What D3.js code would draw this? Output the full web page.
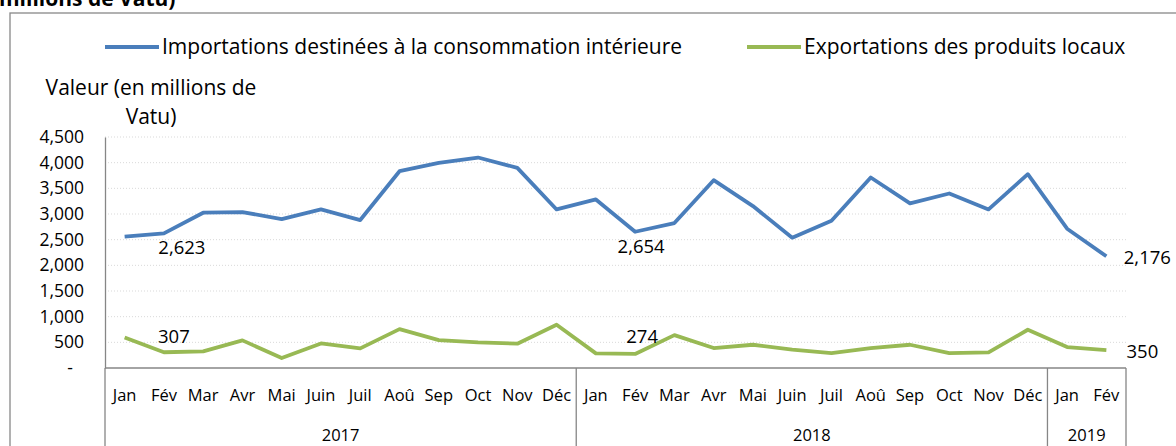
<!DOCTYPE html>
<html>
<head>
<meta charset="utf-8">
<script src="https://cdn.jsdelivr.net/npm/d3@7"></script>
<style>
  body { margin: 0; background: #fff; overflow: hidden; }
  text { font-family: "Open Sans", Lato, sans-serif; fill: #000; }
</style>
</head>
<body>
<svg id="chart"></svg>
<script>
const months = ['Jan', 'Fév', 'Mar', 'Avr', 'Mai', 'Juin', 'Juil', 'Aoû', 'Sep', 'Oct', 'Nov', 'Déc',
  'Jan', 'Fév', 'Mar', 'Avr', 'Mai', 'Juin', 'Juil', 'Aoû', 'Sep', 'Oct', 'Nov', 'Déc',
  'Jan', 'Fév'];
const years = ['2017', '2018', '2019'];
const yearCounts = [12, 12, 2];

const imports = [2558, 2623, 3025, 3038, 2902, 3089, 2882, 3834, 3996, 4100, 3899, 3089,
  3284, 2654, 2824, 3659, 3154, 2539, 2869, 3711, 3206, 3400, 3089, 3776,
  2714, 2176];
const exports = [596, 307, 324, 538, 194, 479, 382, 758, 544, 499, 473, 842,
  285, 274, 641, 389, 453, 356, 291, 389, 453, 291, 304, 745,
  408, 350];

const yTicks = [0, 500, 1000, 1500, 2000, 2500, 3000, 3500, 4000, 4500];
const seriesNames = ['Importations destinées à la consommation intérieure', 'Exportations des produits locaux'];
const labelled = [1, 13, 25];

const width = 1176, height = 446;
const margin = { top: 137, right: 50, bottom: 78, left: 105 };

const svg = d3.select('#chart').attr('width', width).attr('height', height);

const x = d3.scaleBand()
  .domain(d3.range(months.length))
  .range([margin.left, width - margin.right]);

const y = d3.scaleLinear()
  .domain([0, 4500])
  .range([height - margin.bottom, margin.top]);

const cx = i => x(i) + x.bandwidth() / 2;
const y0 = y(0);

// title cut off by the top edge, outer frame
svg.append('text')
  .attr('x', -1).attr('y', 6)
  .style('font-weight', 'bold').style('font-size', '21px')
  .text('millions de Vatu)');

svg.append('rect')
  .attr('x', 10).attr('y', 13)
  .attr('width', width + 20).attr('height', height)
  .attr('fill', 'none').attr('stroke', '#888').attr('stroke-width', 1.3);

// gridlines
svg.append('g')
  .selectAll('line')
  .data(yTicks.slice(1))
  .enter().append('line')
  .attr('x1', margin.left).attr('x2', width - margin.right)
  .attr('y1', d => y(d)).attr('y2', d => y(d))
  .attr('stroke', '#d9d9d9').attr('stroke-dasharray', '1,2');

// y axis
const yAxis = svg.append('g')
  .attr('transform', `translate(${margin.left},0)`)
  .call(d3.axisLeft(y).tickValues(yTicks).tickSize(0).tickPadding(21)
    .tickFormat(d => d === 0 ? '-' : d3.format(',')(d)));
yAxis.select('.domain').attr('stroke', '#868686').attr('stroke-width', 1.3);
yAxis.selectAll('text').style('font-size', '17.5px').style('font-family', '"Open Sans"');
yAxis.selectAll('.tick').filter(d => d === 0).select('text').attr('x', -32);

// x axis with grouped categories
const xg = svg.append('g');
xg.append('line')
  .attr('x1', margin.left).attr('x2', width - margin.right)
  .attr('y1', y0).attr('y2', y0)
  .attr('stroke', '#868686').attr('stroke-width', 1.5);

const bounds = [0];
yearCounts.forEach(c => bounds.push(bounds[bounds.length - 1] + c));

xg.selectAll('.sep')
  .data(bounds)
  .enter().append('line')
  .attr('x1', i => i < months.length ? x(i) : x(i - 1) + x.bandwidth())
  .attr('x2', i => i < months.length ? x(i) : x(i - 1) + x.bandwidth())
  .attr('y1', y0).attr('y2', height)
  .attr('stroke', '#868686').attr('stroke-width', 1.3);

xg.selectAll('.month')
  .data(months)
  .enter().append('text')
  .attr('x', (d, i) => cx(i))
  .attr('y', y0 + 33)
  .attr('text-anchor', 'middle')
  .style('font-size', '16.5px')
  .text(d => d);

xg.selectAll('.year')
  .data(years)
  .enter().append('text')
  .attr('x', (d, i) => (x(bounds[i]) + x(bounds[i + 1] - 1) + x.bandwidth()) / 2)
  .attr('y', y0 + 73)
  .attr('text-anchor', 'middle')
  .style('font-size', '16.5px')
  .text(d => d);

// y axis title
const title = svg.append('text')
  .attr('text-anchor', 'middle')
  .style('font-size', '21px');
title.append('tspan').attr('x', 151).attr('y', 95).text('Valeur (en millions de');
title.append('tspan').attr('x', 151).attr('y', 124).text('Vatu)');

// lines
const colors = ['#4a7ebb', '#98b954'];
const line = d3.line()
  .x((d, i) => cx(i))
  .y(d => y(d));

[imports, exports].forEach((s, k) => {
  svg.append('path')
    .datum(s)
    .attr('fill', 'none')
    .attr('stroke', colors[k])
    .attr('stroke-width', 3.8)
    .attr('stroke-linejoin', 'round')
    .attr('d', line);
});

// data labels
const labelOffsets = [
  [[18, 14], [6, 15], [41, 1]],
  [[10, -16], [7, -17], [36, 1]]
];
[imports, exports].forEach((s, k) => {
  svg.append('g')
    .selectAll('text')
    .data(labelled)
    .enter().append('text')
    .attr('x', (i, j) => cx(i) + labelOffsets[k][j][0])
    .attr('y', (i, j) => y(s[i]) + labelOffsets[k][j][1])
    .attr('dy', '0.35em')
    .attr('text-anchor', 'middle')
    .style('font-size', '18.5px')
    .text(i => d3.format(',')(s[i]));
});

// legend
const legendX = [105, 747];
const lg = svg.append('g')
  .selectAll('g')
  .data(seriesNames)
  .enter().append('g')
  .attr('transform', (d, i) => `translate(${legendX[i]},47)`);
lg.append('line')
  .attr('x1', 0).attr('x2', 54)
  .attr('stroke', (d, i) => colors[i]).attr('stroke-width', 3.8);
lg.append('text')
  .attr('x', 57).attr('dy', '0.35em')
  .style('font-size', '21px')
  .text(d => d);
</script>
</body>
</html>
